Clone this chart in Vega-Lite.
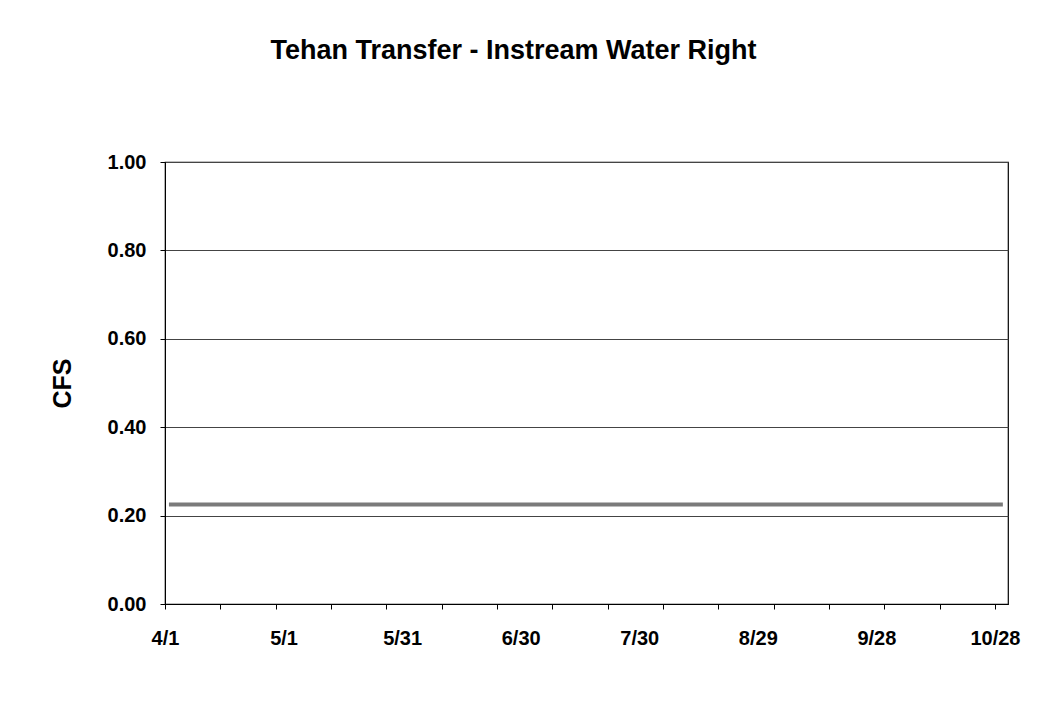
{
  "$schema": "https://vega.github.io/schema/vega-lite/v6.json",
  "width": 843,
  "height": 442,
  "autosize": {"type": "none"},
  "padding": {"left": 165, "top": 162, "right": 56, "bottom": 98},
  "background": "white",
  "title": {
    "text": "Tehan Transfer - Instream Water Right",
    "font": "Liberation Sans",
    "fontSize": 27,
    "fontWeight": "bold",
    "color": "black",
    "anchor": "middle",
    "dx": -73,
    "offset": 87
  },
  "config": {
    "view": {"stroke": "black", "strokeWidth": 1.2},
    "axis": {
      "labelFont": "Liberation Sans",
      "labelFontSize": 20,
      "labelFontWeight": "bold",
      "labelColor": "black",
      "titleFont": "Liberation Sans",
      "titleFontSize": 25,
      "titleFontWeight": "bold",
      "titleColor": "black",
      "domainColor": "black",
      "tickColor": "black"
    }
  },
  "data": {
    "values": [
      {"day": 1, "cfs": 0.225},
      {"day": 30, "cfs": 0.225},
      {"day": 60, "cfs": 0.225},
      {"day": 90, "cfs": 0.225},
      {"day": 120, "cfs": 0.225},
      {"day": 150, "cfs": 0.225},
      {"day": 180, "cfs": 0.225},
      {"day": 210, "cfs": 0.225},
      {"day": 212, "cfs": 0.225}
    ]
  },
  "resolve": {"axis": {"x": "independent", "y": "independent"}},
  "layer": [
    {
      "mark": {"type": "line", "color": "#7a7a7a", "strokeWidth": 4, "clip": true},
      "encoding": {
        "x": {
          "field": "day",
          "type": "quantitative",
          "scale": {"domain": [0, 213.3], "nice": false, "zero": false},
          "axis": {
            "orient": "bottom",
            "title": null,
            "values": [0, 14, 28, 42, 56, 70, 84, 98, 112, 126, 140, 154, 168, 182, 196, 210],
            "labels": false,
            "grid": false,
            "tickSize": 5,
            "domain": true
          }
        },
        "y": {
          "field": "cfs",
          "type": "quantitative",
          "scale": {"domain": [0, 1], "nice": false},
          "axis": {
            "orient": "left",
            "title": "CFS",
            "values": [0, 0.2, 0.4, 0.6, 0.8, 1.0],
            "format": ".2f",
            "grid": true,
            "gridColor": "#444444",
            "gridWidth": 1,
            "tickSize": 5,
            "labelPadding": 14,
            "titlePadding": 32
          }
        }
      }
    },
    {
      "mark": {"type": "point", "opacity": 0},
      "encoding": {
        "x": {
          "field": "day",
          "type": "quantitative",
          "axis": {
            "orient": "bottom",
            "title": null,
            "values": [0, 30, 60, 90, 120, 150, 180, 210],
            "labelExpr": "datum.value == 0 ? '4/1' : datum.value == 30 ? '5/1' : datum.value == 60 ? '5/31' : datum.value == 90 ? '6/30' : datum.value == 120 ? '7/30' : datum.value == 150 ? '8/29' : datum.value == 180 ? '9/28' : '10/28'",
            "grid": false,
            "ticks": false,
            "tickSize": 0,
            "domain": false,
            "labelPadding": 24,
            "labelOverlap": false,
            "labelBound": false,
            "labelFlush": false
          }
        },
        "y": {
          "field": "cfs",
          "type": "quantitative",
          "axis": null
        }
      }
    }
  ]
}
